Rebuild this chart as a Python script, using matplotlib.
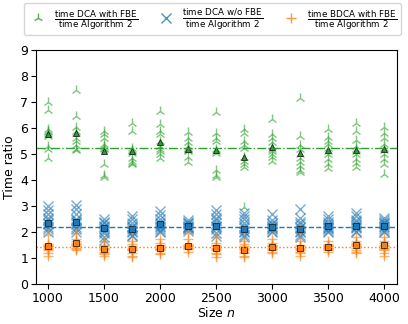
import numpy as np
import matplotlib
matplotlib.use("Agg")
import matplotlib.pyplot as plt

sizes = [1000, 1250, 1500, 1750, 2000, 2250, 2500, 2750, 3000, 3250, 3500, 3750, 4000]

green_runs = [
    [7.0, 6.7, 5.95, 5.9, 5.85, 5.75, 5.7, 5.3, 5.2, 4.85],
    [7.45, 6.45, 6.05, 5.9, 5.8, 5.6, 5.5, 5.35, 5.2, 5.15],
    [5.9, 5.75, 5.6, 5.4, 5.3, 5.25, 5.2, 4.6, 4.2, 4.1],
    [6.2, 5.9, 5.25, 5.15, 5.1, 5.05, 4.85, 4.75, 4.65, 4.6],
    [6.65, 6.15, 5.9, 5.75, 5.5, 5.3, 5.2, 5.1, 5.0, 4.85],
    [5.85, 5.6, 5.45, 5.3, 5.25, 5.2, 5.15, 5.1, 4.9, 4.7],
    [6.6, 5.8, 5.6, 5.5, 5.2, 5.1, 5.05, 4.4, 4.2, 4.1],
    [5.95, 5.8, 5.5, 5.35, 5.25, 4.9, 4.75, 4.6, 4.5, 2.95],
    [6.35, 5.75, 5.6, 5.45, 5.3, 5.2, 5.1, 5.0, 4.9, 4.75],
    [7.15, 5.7, 5.35, 5.2, 5.0, 4.85, 4.7, 4.55, 4.4, 4.3],
    [5.95, 5.65, 5.5, 5.4, 5.25, 5.1, 5.0, 4.8, 4.6, 4.45],
    [6.2, 5.9, 5.55, 5.3, 5.2, 5.1, 5.0, 4.8, 4.65, 4.5],
    [6.05, 5.8, 5.6, 5.4, 5.25, 5.15, 5.0, 4.8, 4.6, 4.25],
]
blue_runs = [
    [3.0, 2.85, 2.7, 2.55, 2.45, 2.35, 2.3, 2.2, 2.1, 2.0],
    [3.05, 2.9, 2.7, 2.5, 2.45, 2.4, 2.3, 2.2, 2.1, 2.0],
    [2.5, 2.4, 2.35, 2.25, 2.2, 2.1, 2.05, 1.95, 1.8, 1.7],
    [2.6, 2.5, 2.35, 2.25, 2.2, 2.1, 2.05, 2.0, 1.9, 1.85],
    [2.8, 2.65, 2.5, 2.4, 2.3, 2.25, 2.2, 2.1, 2.05, 2.0],
    [2.45, 2.4, 2.35, 2.3, 2.25, 2.2, 2.2, 2.15, 2.1, 2.05],
    [2.85, 2.7, 2.55, 2.45, 2.35, 2.25, 2.2, 2.1, 1.95, 1.85],
    [2.75, 2.6, 2.5, 2.35, 2.25, 2.15, 2.05, 2.0, 1.9, 1.8],
    [2.7, 2.45, 2.35, 2.3, 2.25, 2.2, 2.15, 2.1, 2.05, 2.0],
    [2.9, 2.55, 2.4, 2.3, 2.2, 2.15, 2.05, 2.0, 1.9, 1.8],
    [2.6, 2.5, 2.4, 2.3, 2.25, 2.2, 2.15, 2.1, 2.05, 2.0],
    [2.75, 2.6, 2.45, 2.4, 2.3, 2.25, 2.2, 2.15, 2.05, 2.0],
    [2.55, 2.45, 2.4, 2.35, 2.3, 2.25, 2.2, 2.1, 2.05, 2.0],
]
orange_runs = [
    [1.9, 1.55, 1.5, 1.45, 1.45, 1.4, 1.35, 1.3, 1.2, 1.1],
    [1.95, 1.75, 1.65, 1.6, 1.55, 1.5, 1.45, 1.4, 1.35, 1.3],
    [1.65, 1.5, 1.45, 1.4, 1.35, 1.3, 1.25, 1.2, 1.15, 1.1],
    [1.65, 1.55, 1.45, 1.4, 1.35, 1.3, 1.3, 1.2, 1.1, 1.05],
    [1.75, 1.6, 1.5, 1.45, 1.4, 1.35, 1.35, 1.3, 1.2, 1.15],
    [1.95, 1.75, 1.55, 1.5, 1.45, 1.45, 1.4, 1.4, 1.35, 1.25],
    [1.8, 1.6, 1.5, 1.45, 1.4, 1.35, 1.3, 1.2, 1.15, 1.05],
    [1.65, 1.55, 1.45, 1.4, 1.35, 1.3, 1.25, 1.2, 1.1, 1.05],
    [1.75, 1.6, 1.5, 1.45, 1.45, 1.4, 1.35, 1.3, 1.25, 1.2],
    [2.1, 1.65, 1.5, 1.45, 1.4, 1.35, 1.3, 1.25, 1.2, 1.1],
    [1.65, 1.55, 1.5, 1.45, 1.45, 1.4, 1.4, 1.35, 1.3, 1.25],
    [1.8, 1.65, 1.6, 1.55, 1.5, 1.45, 1.4, 1.3, 1.25, 1.2],
    [1.8, 1.65, 1.6, 1.5, 1.45, 1.4, 1.35, 1.3, 1.2, 1.1],
]
green_means = [5.75, 5.8, 5.1, 5.1, 5.45, 5.2, 5.15, 4.9, 5.27, 5.05, 5.15, 5.15, 5.2]
blue_means = [2.35, 2.4, 2.15, 2.1, 2.3, 2.25, 2.25, 2.1, 2.2, 2.1, 2.22, 2.25, 2.25]
orange_means = [1.47, 1.57, 1.35, 1.35, 1.4, 1.47, 1.4, 1.33, 1.43, 1.38, 1.43, 1.5, 1.5]
overall = {"green": 5.25, "blue": 2.2, "orange": 1.42}

labels = [
    r"$\frac{\mathrm{time\ DCA\ with\ FBE}}{\mathrm{time\ Algorithm\ 2}}$",
    r"$\frac{\mathrm{time\ DCA\ w/o\ FBE}}{\mathrm{time\ Algorithm\ 2}}$",
    r"$\frac{\mathrm{time\ BDCA\ with\ FBE}}{\mathrm{time\ Algorithm\ 2}}$",
]

cg, cb, co = "#2ca02c", "#1f77b4", "#ff7f0e"

fig = plt.figure(figsize=(4.08, 3.24), dpi=100)
ax = fig.add_axes([0.088, 0.123, 0.885, 0.723])

def scatter_runs(runs, marker, color, label):
    xs, ys = [], []
    for s, r in zip(sizes, runs):
        xs += [s] * len(r)
        ys += r
    return ax.plot(xs, ys, linestyle="none", marker=marker, color=color,
                   alpha=0.6, markersize=7.5, markeredgewidth=1.0, label=label)[0]

hg = scatter_runs(green_runs, "2", cg, labels[0])
hb = scatter_runs(blue_runs, "x", cb, labels[1])
ho = scatter_runs(orange_runs, "+", co, labels[2])

ax.plot(sizes, green_means, linestyle="none", marker="^", color=cg,
        markeredgecolor="#222222", markeredgewidth=0.6, markersize=5)
ax.plot(sizes, blue_means, linestyle="none", marker="s", color=cb,
        markeredgecolor="#222222", markeredgewidth=0.6, markersize=5)
ax.plot(sizes, orange_means, linestyle="none", marker="s", color=co,
        markeredgecolor="#222222", markeredgewidth=0.6, markersize=5)

ax.axhline(overall["green"], color=cg, linestyle="-.", linewidth=1.0)
ax.axhline(overall["blue"], color=cb, linestyle="--", linewidth=1.0)
ax.axhline(overall["orange"], color=co, linestyle=":", linewidth=1.0)

ax.set_xlim(893, 4115)
ax.set_ylim(0, 9)
ax.set_xticks([1000, 1500, 2000, 2500, 3000, 3500, 4000])
ax.set_yticks(range(0, 10))
ax.tick_params(labelsize=9, pad=2)
ax.set_xlabel(r"Size $n$", fontsize=9, labelpad=1)
ax.set_ylabel("Time ratio", fontsize=9, labelpad=3)

leg = ax.legend(handles=[hg, hb, ho], loc="lower center", ncol=3,
                bbox_to_anchor=(0.489, 1.035), fontsize=9, frameon=True,
                handletextpad=0.5, columnspacing=1.4, borderpad=0.3,
                handlelength=1.6, markerscale=0.9)
for lh in leg.legend_handles:
    lh.set_alpha(0.8)

fig.savefig("out.png", dpi=100)
